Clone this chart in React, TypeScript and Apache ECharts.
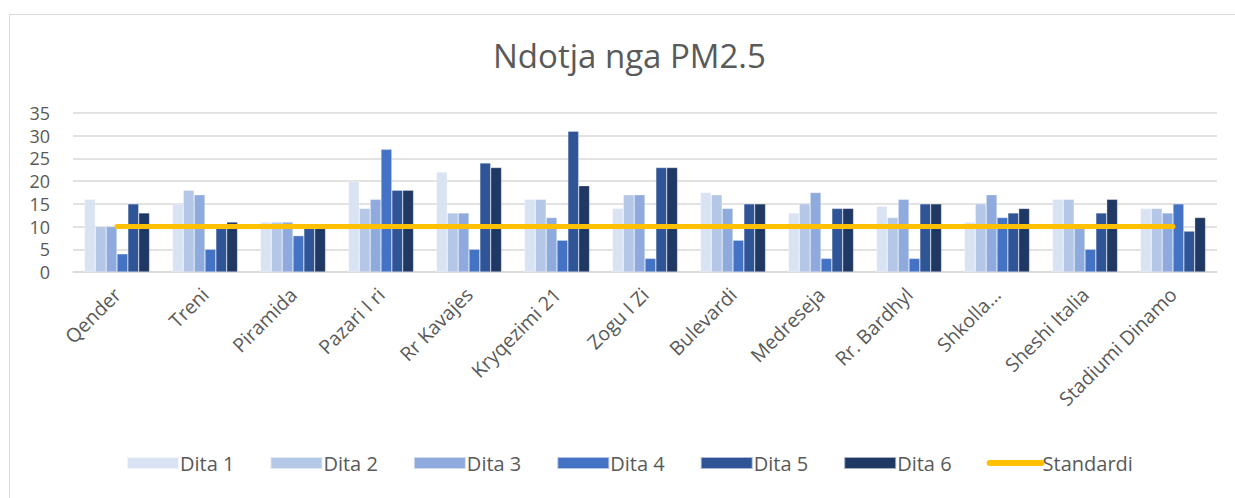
import React, { useEffect, useRef } from "react";
import * as echarts from "echarts";

const categories = [
  "Qender", "Treni", "Piramida", "Pazari I ri", "Rr Kavajes", "Kryqezimi 21",
  "Zogu I Zi", "Bulevardi", "Medreseja", "Rr. Bardhyl", "Shkolla…", "Sheshi Italia", "Stadiumi Dinamo",
];
const dita1 = [16, 15, 11, 20, 22, 16, 14, 17.5, 13, 14.5, 11, 16, 14];
const dita2 = [10, 18, 11, 14, 13, 16, 17, 17, 15, 12, 15, 16, 14];
const dita3 = [10, 17, 11, 16, 13, 12, 17, 14, 17.5, 16, 17, 10, 13];
const dita4 = [4, 5, 8, 27, 5, 7, 3, 7, 3, 3, 12, 5, 15];
const dita5 = [15, 10, 10, 18, 24, 31, 23, 15, 14, 15, 13, 13, 9];
const dita6 = [13, 11, 10, 18, 23, 19, 23, 15, 14, 15, 14, 16, 12];
const standardi = [10, 10, 10, 10, 10, 10, 10, 10, 10, 10, 10, 10, 10];
const seriesNames = ["Dita 1", "Dita 2", "Dita 3", "Dita 4", "Dita 5", "Dita 6"];
const barData = [dita1, dita2, dita3, dita4, dita5, dita6];
const barColors = ["#DAE3F3", "#B4C7E7", "#8FAADC", "#4472C4", "#2F5597", "#203864"];

const FONT = "Open Sans";
const GREY = "#595959";

export default function App() {
  const ref = useRef<HTMLDivElement>(null);
  useEffect(() => {
    const chart = echarts.init(ref.current!, null, { renderer: "svg" });
    chart.setOption({
      animation: false,
      backgroundColor: "#fff",
      title: {
        text: "Ndotja nga PM2.5",
        left: 488,
        top: 34,
        textStyle: { fontFamily: FONT, fontSize: 33, fontWeight: "normal", color: GREY },
      },
      graphic: [
        {
          type: "rect",
          shape: { x: 9.5, y: 14.5, width: 1400, height: 700 },
          style: { fill: "none", stroke: "#D9D9D9", lineWidth: 1 },
          silent: true,
        },
      ],
      legend: {
        top: 453,
        left: 126,
        padding: 0,
        itemWidth: 52,
        itemHeight: 12,
        itemGap: 35,
        textStyle: { fontFamily: FONT, fontSize: 20, color: GREY, padding: [0, 0, 0, -4] },
        data: [
          ...seriesNames.map((n) => ({ name: n, icon: "rect" })),
          {
            name: "Standardi",
            itemStyle: { opacity: 0 },
            lineStyle: { width: 6, cap: "round", color: "#FFC000" },
          },
        ],
      },
      grid: { left: 73, right: 18, top: 113, bottom: 226 },
      xAxis: {
        type: "category",
        data: categories,
        axisTick: { show: false },
        axisLine: { lineStyle: { color: "#D9D9D9", width: 1.5 } },
        axisLabel: {
          rotate: 45,
          interval: 0,
          fontFamily: FONT,
          fontSize: 19.5,
          color: GREY,
          margin: 19,
        },
      },
      yAxis: {
        type: "value",
        min: 0,
        max: 35,
        interval: 5,
        axisLine: { show: false },
        axisTick: { show: false },
        axisLabel: { fontFamily: FONT, fontSize: 18, lineHeight: 18, color: GREY, margin: 23 },
        splitLine: { lineStyle: { color: "#D9D9D9", width: 1.5 } },
      },
      series: [
        ...barData.map((d, i) => ({
          name: seriesNames[i],
          type: "bar",
          data: d,
          barGap: "0%",
          barCategoryGap: "26%",
          itemStyle: { color: barColors[i], borderColor: "rgba(255,255,255,0.6)", borderWidth: 0.5 },
        })),
        {
          name: "Standardi",
          type: "line",
          data: standardi,
          symbol: "none",
          lineStyle: { color: "#FFC000", width: 5, cap: "round" },
          itemStyle: { color: "#FFC000" },
          z: 5,
        },
      ],
    });
    return () => chart.dispose();
  }, []);
  return (
    <div
      ref={ref}
      style={{ position: "absolute", left: 0, top: 0, width: 1235, height: 498 }}
    />
  );
}
